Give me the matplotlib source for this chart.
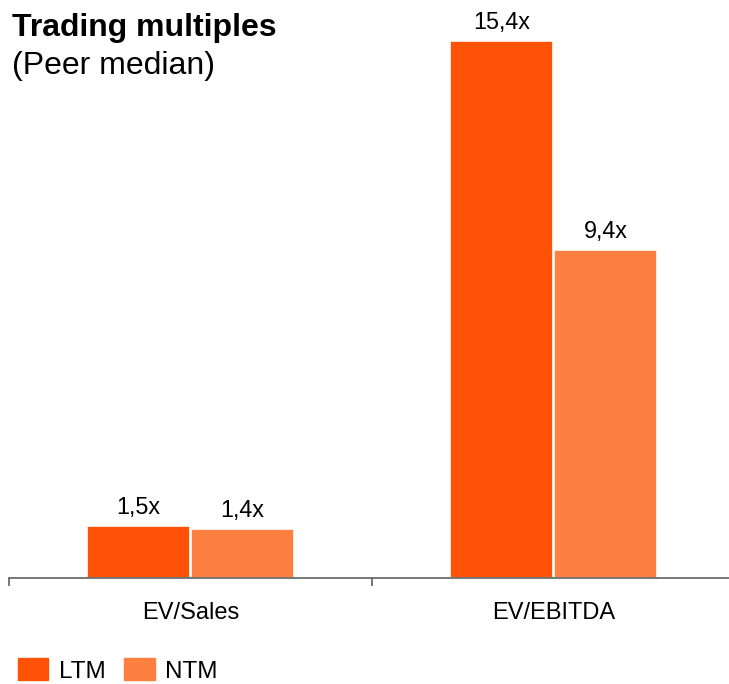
import numpy as np
import matplotlib.pyplot as plt
from matplotlib.patches import Patch

plt.rcParams["font.family"] = ["Liberation Sans", "DejaVu Sans"]

categories = ["EV/Sales", "EV/EBITDA"]
series = ["LTM", "NTM"]
ltm = [1.5, 15.4]
ntm = [1.4, 9.4]
colors = ["#FF5206", "#FF7F40"]

fig = plt.figure(figsize=(7.29, 6.84), dpi=100)
ax = fig.add_axes([9 / 729, 1 - 578 / 684, 726 / 729, 578 / 684])

x = np.arange(len(categories))
w = 0.285
off = 0.143
for vals, dx, c in [(ltm, -off, colors[0]), (ntm, off, colors[1])]:
    bars = ax.bar(x + dx, vals, width=w, color=c, edgecolor="white", linewidth=1.2)
    for b, v in zip(bars, vals):
        ax.annotate(f"{v:.1f}".replace(".", ",") + "x",
                    (b.get_x() + b.get_width() / 2, v),
                    xytext=(0, 5), textcoords="offset points",
                    ha="center", va="bottom", fontsize=16.8)

ax.set_xlim(-0.5, 1.5)
ax.set_ylim(0, 16.58)
ax.set_yticks([])
for s in ["top", "right", "left"]:
    ax.spines[s].set_visible(False)
ax.spines["bottom"].set_color("#606060")
ax.spines["bottom"].set_linewidth(1.2)
ax.set_xticks(x)
ax.set_xticklabels(categories, fontsize=17)
ax.tick_params(axis="x", which="major", length=0, pad=17)
ax.set_xticks([-0.5, 0.5, 1.5], minor=True)
ax.tick_params(axis="x", which="minor", length=6, width=1.2, color="#606060")

fig.text(12 / 729, 1 - 28 / 684, "Trading multiples", fontsize=23,
         fontweight="bold", va="center", ha="left")
fig.text(12 / 729, 1 - 66 / 684, "(Peer median)", fontsize=23,
         va="center", ha="left")

handles = [Patch(color=c) for c in colors]
fig.legend(handles, series, loc="lower left", bbox_to_anchor=(-4 / 729, -0.03),
           ncol=2, frameon=False, fontsize=17.5, handlelength=1.25, handleheight=1.0,
           handletextpad=0.45, columnspacing=0.75)

fig.savefig("out.png", dpi=100)
